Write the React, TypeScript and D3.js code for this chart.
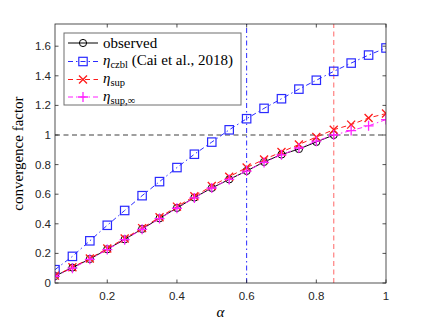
import * as d3 from "d3";

// alpha values sampled at 0.05 steps
const alpha = [0.05, 0.1, 0.15, 0.2, 0.25, 0.3, 0.35, 0.4, 0.45, 0.5, 0.55, 0.6, 0.65, 0.7, 0.75, 0.8, 0.85, 0.9, 0.95, 1.0];

// observed convergence factor (measured up to alpha = 0.85)
const observed = [0.047, 0.104, 0.162, 0.228, 0.295, 0.365, 0.437, 0.507, 0.577, 0.642, 0.7, 0.757, 0.818, 0.868, 0.905, 0.953, 1.0];

// eta_czbl (Cai et al., 2018)
const etaCzbl = [0.09, 0.18, 0.285, 0.39, 0.49, 0.59, 0.685, 0.78, 0.87, 0.952, 1.035, 1.11, 1.18, 1.245, 1.31, 1.37, 1.43, 1.486, 1.54, 1.588];

// eta_sup
const etaSup = [0.05, 0.106, 0.166, 0.233, 0.301, 0.371, 0.444, 0.516, 0.586, 0.655, 0.718, 0.78, 0.835, 0.885, 0.936, 0.986, 1.036, 1.07, 1.115, 1.145];

// eta_sup,inf
const etaSupInf = [0.045, 0.1, 0.16, 0.226, 0.293, 0.363, 0.435, 0.505, 0.575, 0.642, 0.7, 0.756, 0.815, 0.866, 0.912, 0.958, 1.0, 1.03, 1.062, 1.104];

const xTicks = [0.2, 0.4, 0.6, 0.8, 1];
const yTicks = [0, 0.2, 0.4, 0.6, 0.8, 1, 1.2, 1.4, 1.6];

const W = 427, H = 321;
const margin = { top: 24, right: 41, bottom: 38, left: 55 };

const App = () => {
  const x = d3.scaleLinear().domain([0.05, 1]).range([margin.left, W - margin.right]);
  const y = d3.scaleLinear().domain([0, 1.75]).range([H - margin.bottom, margin.top]);

  const line = (vals: number[]) =>
    d3.line<number>()
      .x((_, i) => x(alpha[i]))
      .y((d) => y(d))(vals) as string;

  const axisCol = "#262626";
  const blue = "#2a2aff";
  const red = "#ff1a1a";
  const magenta = "#ff22ff";
  const tickFont = { fontFamily: "Liberation Sans, Arial, sans-serif", fontSize: 11.5, fill: axisCol };
  const serif = "Liberation Serif, 'Times New Roman', serif";

  const circle = (cx: number, cy: number, k: string) => (
    <circle key={k} cx={cx} cy={cy} r={3.6} fill="none" stroke="#000" strokeWidth={1} />
  );
  const square = (cx: number, cy: number, k: string) => (
    <rect key={k} x={cx - 4.2} y={cy - 4.2} width={8.4} height={8.4} fill="none" stroke={blue} strokeWidth={1.2} />
  );
  const cross = (cx: number, cy: number, k: string) => (
    <path key={k} d={`M${cx - 4},${cy - 4}L${cx + 4},${cy + 4}M${cx - 4},${cy + 4}L${cx + 4},${cy - 4}`} stroke={red} strokeWidth={1.3} />
  );
  const plus = (cx: number, cy: number, k: string) => (
    <path key={k} d={`M${cx - 5},${cy}L${cx + 5},${cy}M${cx},${cy - 5}L${cx},${cy + 5}`} stroke={magenta} strokeWidth={1.3} />
  );

  const [x0, x1] = x.range();
  const [y0, y1] = y.range();

  // legend layout
  const lg = { left: 64, top: 33, right: 241, bottom: 105 };
  const rows = [43, 61.5, 79.5, 97];
  const sx0 = 68, sx1 = 98, sxm = 83, tx = 103;

  return (
    <svg width={W} height={H} style={{ position: "absolute", left: 0, top: 0, background: "#fff" }}>
      <rect x={0} y={0} width={W} height={H} fill="#fff" />
      <defs>
        <clipPath id="plot">
          <rect x={x0} y={y1} width={x1 - x0} height={y0 - y1} />
        </clipPath>
      </defs>

      {/* reference lines */}
      <g clipPath="url(#plot)">
        <line x1={x0} x2={x1} y1={y(1)} y2={y(1)} stroke="#808080" strokeWidth={1.3} strokeDasharray="5,3.5" />
        <line x1={x(0.6)} x2={x(0.6)} y1={y0} y2={y1} stroke={blue} strokeWidth={1} strokeDasharray="5,3,1.5,3" />
        <line x1={x(0.85)} x2={x(0.85)} y1={y0} y2={y1} stroke="#ff8080" strokeWidth={1.2} strokeDasharray="5,3.5" />
      </g>

      {/* series */}
      <g clipPath="url(#plot)">
        <path d={line(observed)} fill="none" stroke="#000" strokeWidth={1} />
        {observed.map((v, i) => circle(x(alpha[i]), y(v), "o" + i))}
        <path d={line(etaCzbl)} fill="none" stroke={blue} strokeWidth={1} strokeDasharray="5,3,1.5,3" />
        {etaCzbl.map((v, i) => square(x(alpha[i]), y(v), "s" + i))}
        <path d={line(etaSup)} fill="none" stroke={red} strokeWidth={1} strokeDasharray="5,3.5" />
        {etaSup.map((v, i) => cross(x(alpha[i]), y(v), "x" + i))}
        <path d={line(etaSupInf)} fill="none" stroke={magenta} strokeWidth={1} strokeDasharray="5,3,1.5,3" />
        {etaSupInf.map((v, i) => plus(x(alpha[i]), y(v), "p" + i))}
      </g>

      {/* axes box */}
      <rect x={x0} y={y1} width={x1 - x0} height={y0 - y1} fill="none" stroke={axisCol} strokeWidth={0.8} />
      {xTicks.map((t) => (
        <g key={"xt" + t}>
          <line x1={x(t)} x2={x(t)} y1={y0} y2={y0 - 3.5} stroke={axisCol} strokeWidth={0.8} />
          <line x1={x(t)} x2={x(t)} y1={y1} y2={y1 + 3.5} stroke={axisCol} strokeWidth={0.8} />
          <text x={x(t)} y={y0 + 17} textAnchor="middle" {...tickFont}>{d3.format("~g")(t)}</text>
        </g>
      ))}
      {yTicks.map((t) => (
        <g key={"yt" + t}>
          <line x1={x0} x2={x0 + 3.5} y1={y(t)} y2={y(t)} stroke={axisCol} strokeWidth={0.8} />
          <line x1={x1} x2={x1 - 3.5} y1={y(t)} y2={y(t)} stroke={axisCol} strokeWidth={0.8} />
          <text x={x0 - 4} y={y(t) + 4} textAnchor="end" {...tickFont}>{d3.format("~g")(t)}</text>
        </g>
      ))}

      {/* axis labels */}
      <text x={(x0 + x1) / 2} y={317} textAnchor="middle" fontFamily={serif} fontStyle="italic" fontSize={15} fill="#000">α</text>
      <text transform={`translate(23,${(y0 + y1) / 2}) rotate(-90)`} textAnchor="middle" fontFamily={serif} fontSize={15} fill="#000">convergence factor</text>

      {/* legend */}
      <rect x={lg.left} y={lg.top} width={lg.right - lg.left} height={lg.bottom - lg.top} fill="#fff" stroke="#6e6e6e" strokeWidth={1} />
      <line x1={sx0} x2={sx1} y1={rows[0]} y2={rows[0]} stroke="#000" strokeWidth={1} />
      {circle(sxm, rows[0], "lo")}
      <line x1={sx0} x2={sx1} y1={rows[1]} y2={rows[1]} stroke={blue} strokeWidth={1} strokeDasharray="5,3,1.5,3" />
      {square(sxm, rows[1], "ls")}
      <line x1={sx0} x2={sx1} y1={rows[2]} y2={rows[2]} stroke={red} strokeWidth={1} strokeDasharray="5,3.5" />
      {cross(sxm, rows[2], "lx")}
      <line x1={sx0} x2={sx1} y1={rows[3]} y2={rows[3]} stroke={magenta} strokeWidth={1} strokeDasharray="5,3,1.5,3" />
      {plus(sxm, rows[3], "lp")}

      <g fontFamily={serif} fontSize={15} fill="#000">
        <text x={tx} y={rows[0] + 4.5}>observed</text>
        <text x={tx} y={rows[1] + 3.5}>
          <tspan fontStyle="italic">η</tspan>
          <tspan fontSize={10.5} dy={3}>czbl</tspan>
          <tspan dy={-3}>{" "}(Cai et al., 2018)</tspan>
        </text>
        <text x={tx} y={rows[2] + 3.5}>
          <tspan fontStyle="italic">η</tspan>
          <tspan fontSize={10.5} dy={3}>sup</tspan>
        </text>
        <text x={tx} y={rows[3] + 3.5}>
          <tspan fontStyle="italic">η</tspan>
          <tspan fontSize={10.5} dy={3}>sup,∞</tspan>
        </text>
      </g>
    </svg>
  );
};

export default App;
